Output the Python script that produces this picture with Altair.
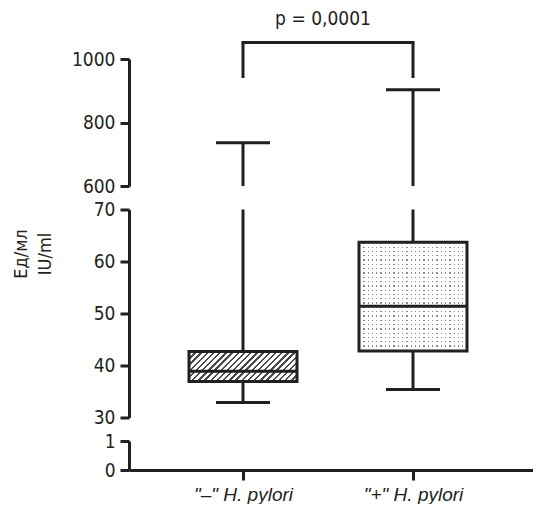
import altair as alt
import numpy as np
import pandas as pd

# ---------------- data ----------------
groups = ['"–" H. pylori', '"+" H. pylori']
q1 = [36.9, 42.8]
median = [38.9, 51.4]
q3 = [42.7, 63.7]
whisker_low = [32.9, 35.4]
whisker_high = [736, 903]

top_ticks = [600, 800, 1000]
mid_ticks = [30, 40, 50, 60, 70]
low_ticks = [0, 1]
p_label = "p = 0,0001"
y_title = ["Ед/мл", "IU/ml"]

# ---------------- style / layout ----------------
INK = "#231f20"
FONT = "DejaVu Sans Condensed, Liberation Sans, sans-serif"
XFONT = "Liberation Sans, Arial, sans-serif"
W = 404
H_TOP, H_MID, H_LOW = 127, 208, 29
BOX = 108
CAP = 54
LW = 3

top_lo, top_hi = top_ticks[0], top_ticks[-1]
mid_lo, mid_hi = mid_ticks[0], mid_ticks[-1]
low_lo, low_hi = low_ticks[0], low_ticks[-1]

df = pd.DataFrame({"group": groups, "q1": q1, "median": median, "q3": q3,
                   "wlo": whisker_low, "whi": whisker_high})
df["top_a"] = np.clip(df["q3"], top_lo, top_hi)
df["top_b"] = np.clip(df["whi"], top_lo, top_hi)
df["up_a"] = np.clip(df["q3"], mid_lo, mid_hi)
df["up_b"] = np.clip(df["whi"], mid_lo, mid_hi)
df["dn_a"] = np.clip(df["wlo"], mid_lo, mid_hi)
df["dn_b"] = np.clip(df["q1"], mid_lo, mid_hi)
pair = pd.DataFrame({"a": [groups[0]], "b": [groups[1]], "label": [p_label]})

# category centres 114 px and 284 px from the left of the plot area
STEP, LEFT = 170.0, 114.0
PAD = (W / STEP - 1) / 2
ALIGN = LEFT / (2 * PAD * STEP)
xscale = alt.Scale(type="point", domain=groups, padding=PAD, align=ALIGN)


def X(field="group", axis=None):
    return alt.X(f"{field}:N", scale=xscale, axis=axis)


def yaxis(values, **kw):
    return alt.Axis(values=values, format="d", grid=False, domainColor=INK,
                    domainWidth=LW, tickColor=INK, tickWidth=LW, tickSize=9,
                    labelFont=FONT, labelFontSize=19, labelColor=INK,
                    labelPadding=5, labelFlush=False, labelOverlap=False, **kw)


def Ytop(f):
    return alt.Y(f"{f}:Q", scale=alt.Scale(domain=[top_lo, top_hi], nice=False, zero=False),
                 axis=yaxis(top_ticks, title=None))


def Ymid(f):
    return alt.Y(f"{f}:Q", scale=alt.Scale(domain=[mid_lo, mid_hi], nice=False, zero=False),
                 axis=yaxis(mid_ticks, title=y_title, titleFont=FONT, titleFontSize=18,
                            titleFontWeight="normal", titleColor=INK, titleAngle=270,
                            titleAlign="center", titleBaseline="middle", titleLineHeight=24,
                            titleX=-108, titleY=44))


def stripe_stops(total, period, ink_frac, ink, paper):
    stops = []
    pos = 0.0
    while pos < total - 1e-9:
        a = pos / total
        b = min(pos + period * ink_frac, total) / total
        c = min(pos + period, total) / total
        stops += [{"offset": a, "color": ink}, {"offset": b, "color": ink},
                  {"offset": b, "color": paper}, {"offset": c, "color": paper}]
        pos += period
    return stops


# diagonal hatch for the "-" box
bw = BOX
bh = (q3[0] - q1[0]) * H_MID / (mid_hi - mid_lo)
k = (bw + bh) / (bw ** 2 + bh ** 2)
hatch = {"gradient": "linear", "x1": 0, "y1": 0, "x2": bw * k, "y2": bh * k,
         "stops": stripe_stops(bw + bh, 6.2, 0.4, "#4a4a4a", "#ffffff")}

# dotted fill for the "+" box (vertical lines masked by horizontal white bands)
dh = (q3[1] - q1[1]) * H_MID / (mid_hi - mid_lo)
vlines = {"gradient": "linear", "x1": 0, "y1": 0, "x2": 1, "y2": 0,
          "stops": stripe_stops(BOX, 4.3, 0.3, "#8a8a8a", "#ffffff")}
hmask = {"gradient": "linear", "x1": 0, "y1": 0, "x2": 0, "y2": 1,
         "stops": stripe_stops(dh, 4.3, 0.3, "rgba(255,255,255,0)", "#ffffff")}

base = alt.Chart(df)
neg = alt.FieldEqualPredicate(field="group", equal=groups[0])
pos = alt.FieldEqualPredicate(field="group", equal=groups[1])

# ---------------- top panel (600-1000) ----------------
top_whisk = base.mark_rule(color=INK, strokeWidth=LW).encode(x=X(), y=Ytop("top_a"), y2="top_b:Q")
top_cap = base.mark_tick(color=INK, opacity=1, size=CAP, thickness=LW).encode(x=X(), y=Ytop("whi"))
legs = base.mark_rule(color=INK, strokeWidth=LW).encode(x=X(), y=alt.value(-16.5), y2=alt.value(19))
bridge = alt.Chart(pair).mark_rule(color=INK, strokeWidth=LW, strokeCap="square").encode(
    x=X("a"), x2=alt.X2("b"), y=alt.value(-16.5))
ptext = alt.Chart(pair).mark_text(font=FONT, fontSize=19, color=INK, baseline="middle",
                                  align="center").encode(
    text="label:N", x=alt.value(194), y=alt.value(-40))
top = alt.layer(top_whisk, top_cap, legs, bridge, ptext).properties(width=W, height=H_TOP)

# ---------------- middle panel (30-70) ----------------
up = base.mark_rule(color=INK, strokeWidth=LW).encode(x=X(), y=Ymid("up_a"), y2="up_b:Q")
dn = base.mark_rule(color=INK, strokeWidth=LW).encode(x=X(), y=Ymid("dn_a"), y2="dn_b:Q")
lcap = base.mark_tick(color=INK, opacity=1, size=CAP, thickness=LW).encode(x=X(), y=Ymid("wlo"))
box_neg = base.transform_filter(neg).mark_bar(size=BOX, fill=hatch).encode(
    x=X(), y=Ymid("q1"), y2="q3:Q")
box_pos = base.transform_filter(pos).mark_bar(size=BOX, fill=vlines).encode(
    x=X(), y=Ymid("q1"), y2="q3:Q")
box_pos_mask = base.transform_filter(pos).mark_bar(size=BOX, fill=hmask).encode(
    x=X(), y=Ymid("q1"), y2="q3:Q")
outline = base.mark_bar(size=BOX, fillOpacity=0, stroke=INK, strokeWidth=LW).encode(
    x=X(), y=Ymid("q1"), y2="q3:Q")
med = base.mark_tick(color=INK, opacity=1, size=BOX, thickness=LW).encode(x=X(), y=Ymid("median"))
mid = alt.layer(up, dn, lcap, box_neg, box_pos, box_pos_mask, outline, med).properties(
    width=W, height=H_MID)

# ---------------- bottom panel (0-1) with the category axis ----------------
xaxis = alt.Axis(title=None, labelAngle=0, labelFont=XFONT, labelFontSize=19,
                 labelFontStyle="italic", labelColor=INK, labelPadding=5, tickSize=10,
                 tickWidth=LW, tickColor=INK, domainWidth=LW, domainColor=INK)
low = base.transform_calculate(zero="0").mark_point(opacity=0).encode(
    x=X(axis=xaxis),
    y=alt.Y("zero:Q", scale=alt.Scale(domain=[low_lo, low_hi], nice=False, zero=False),
            axis=yaxis(low_ticks, title=None)),
).properties(width=W, height=H_LOW)

chart = alt.vconcat(top, mid, low, spacing=23.5, bounds="flush").properties(
    padding={"left": 4, "top": 2, "right": 0, "bottom": 0}
).configure(font=FONT).configure_view(strokeWidth=0, strokeOpacity=0)

chart.save("out.html", embed_options={"renderer": "svg", "actions": False})
